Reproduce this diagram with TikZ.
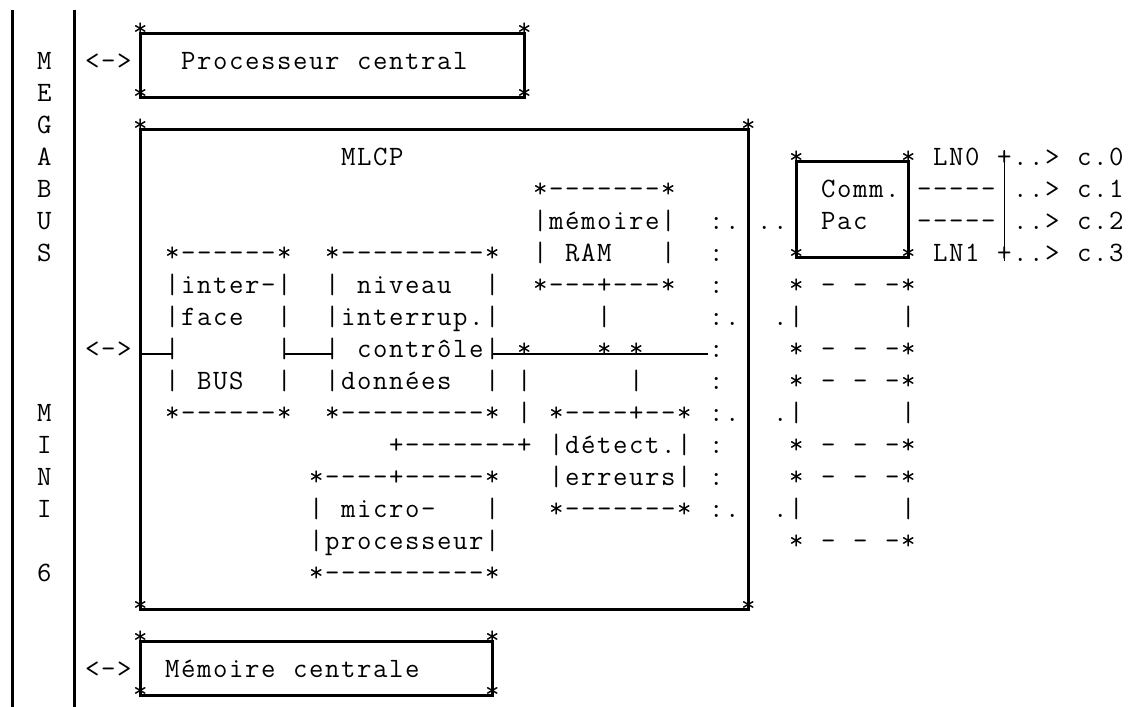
\documentclass[tikz,border=0pt]{standalone}
\usepackage{fontspec}
\usepackage{tikz}
\usetikzlibrary{positioning}
\makeatletter
\def\TypedEnd{\TypedEnd@}
\def\TypedLoop#1{\ifx#1\TypedEnd\else\makebox[8pt][c]{#1}\expandafter\TypedLoop\fi}
\makeatother
\newcommand\Typed[1]{\expandafter\TypedLoop#1\TypedEnd}
\tikzset{%
  TypedStyle/.style={inner sep=0pt,anchor=base west,
    font=\ttfamily\fontsize{14}{16}\selectfont\addfontfeature{FakeBold=1}},
  RuledStyle/.style={line width=1.5pt},
  BusStyle/.style={line width=1.2pt},
  WireStyle/.style={line width=0.8pt}
}
% typewriter grid: column #2, line #3
\newcommand\TypedAt[4]{\node[TypedStyle] (#1) at ({164+16*(#2)},{357+32*(#3)}) {\Typed{#4}};}
\newcommand\RuledBox[5]{%
  \coordinate (#1-nw) at ({172+16*(#2)},{353+32*(#3)});
  \coordinate (#1-se) at ({172+16*(#4)},{353+32*(#5)});
  \draw[RuledStyle] (#1-nw) rectangle (#1-se);
  \TypedAt{#1-a}{#2}{#3}{*}\TypedAt{#1-b}{#4}{#3}{*}
  \TypedAt{#1-c}{#2}{#5}{*}\TypedAt{#1-d}{#4}{#5}{*}}

\begin{document}
\begin{tikzpicture}[x=0.5pt,y=-0.5pt]
  \useasboundingbox (0,0) rectangle (1132,707);
  \draw[RuledStyle] (12,10) -- (12,707);
  \draw[RuledStyle] (74,10) -- (74,707);
  \foreach \ch [count=\xi from -9] in {M,E,G,A,B,U,S}
    {\TypedAt{mega\xi}{-8}{\xi}{\ch}}
  \foreach \ch/\r in {M/2,I/3,N/4,I/5,6/7}
    {\TypedAt{mini\r}{-8}{\r}{\ch}}
  \foreach \r in {-9,0,10}
    {\TypedAt{arrow\r}{-5}{\r}{<->}}

  \RuledBox{cpubox}{-2}{-10}{22}{-8}
  \RuledBox{mlcpbox}{-2}{-7}{36}{8}
  \RuledBox{membox}{-2}{9}{20}{10.7}
  \RuledBox{commbox}{39}{-6}{46}{-3}
  \TypedAt{cpu}{1}{-9}{Processeur~central}
  \TypedAt{mem}{0}{10}{Mémoire~centrale}
  \TypedAt{mlcp}{11}{-6}{MLCP}
  \TypedAt{comm}{41}{-5}{Comm.}
  \TypedAt{pac}{41}{-4}{Pac}

  \foreach \txt [count=\xi from -3] in
    {*------*,|inter-|,|face~~|,|~~~~~~|,|~BUS~~|,*------*}
    {\TypedAt{bus\xi}{0}{\xi}{\txt}}
  \foreach \txt [count=\xi from -3] in
    {*---------*,|~niveau~~|,|interrup.|,|~contrôle|,|données~~|,*---------*}
    {\TypedAt{niv\xi}{10}{\xi}{\txt}}
  \foreach \txt [count=\xi from -5] in
    {*-------*,|mémoire|,|~RAM~~~|,*---+---*}
    {\TypedAt{ram\xi}{23}{\xi}{\txt}}
  \foreach \txt [count=\xi from 2] in
    {*----+--*,|détect.|,|erreurs|,*-------*}
    {\TypedAt{err\xi}{24}{\xi}{\txt}}
  \foreach \txt [count=\xi from 4] in
    {*----+-----*,|~micro-~~~|,|processeur|,*----------*}
    {\TypedAt{micro\xi}{9}{\xi}{\txt}}

  % internal bus
  \foreach \c in {22,27,29}
    {\TypedAt{tap\c}{\c}{0}{*}}
  \TypedAt{ramlink}{27}{-1}{|}
  \TypedAt{errlink}{29}{1}{|}
  \TypedAt{uplink1}{22}{1}{|}
  \TypedAt{uplink2}{22}{2}{|}
  \TypedAt{cross}{14}{3}{+-------+}
  \foreach \r in {-4,...,5}
    {\TypedAt{colon\r}{34}{\r}{:}}
  \foreach \r in {-4,-1,2,5}
    {\TypedAt{dot\r}{35}{\r}{.}}
  \draw[BusStyle] ([yshift=1.5pt]mlcpbox-nw |- bus0.base west)
    -- ([xshift=4pt,yshift=1.5pt]bus0.base west);
  \draw[BusStyle] ([xshift=-4pt,yshift=1.5pt]bus0.base east)
    -- ([xshift=4pt,yshift=1.5pt]niv0.base west);
  \draw[BusStyle] ([xshift=-4pt,yshift=1.5pt]niv0.base east)
    -- ([yshift=1.5pt]colon0.base west);

  % spare line boards
  \TypedAt{dots}{37}{-4}{..}
  \foreach \r in {-1,2,5}
    {\TypedAt{spdot\r}{38}{\r}{.}}
  \foreach \r in {-2,0,1,3,4,6}
    {\TypedAt{slot\r}{39}{\r}{*~-~-~-*}}
  \foreach \r in {-1,2,5}
    {\TypedAt{side\r}{39}{\r}{|~~~~~~|}}

  % lines and channels
  \TypedAt{ln0}{48}{-6}{LN0}
  \TypedAt{ln1}{48}{-3}{LN1}
  \TypedAt{link1}{47}{-5}{-----}
  \TypedAt{link2}{47}{-4}{-----}
  \TypedAt{plus0}{52}{-6}{+}
  \TypedAt{plus1}{52}{-3}{+}
  \draw[WireStyle] (plus0.north) -- (plus1.south);
  \foreach \r [count=\xi from 0] in {-6,-5,-4,-3}
    {\TypedAt{chan\xi}{53}{\r}{..>~c.\xi}}
\end{tikzpicture}
\end{document}
